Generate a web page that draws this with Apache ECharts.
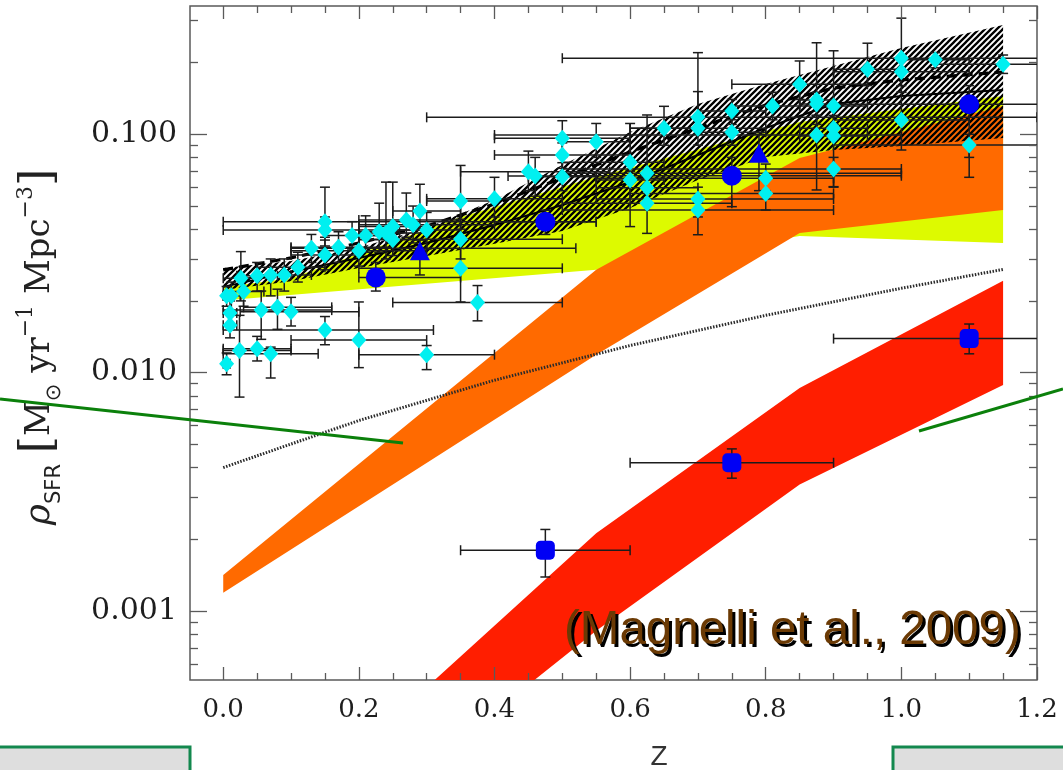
<!DOCTYPE html>
<html>
<head>
<meta charset="utf-8">
<script src="https://cdn.jsdelivr.net/npm/echarts@6.0.0/dist/echarts.min.js"></script>
<style>
html, body { margin:0; padding:0; background:#ffffff; }
#chart { width:1063px; height:770px; }
</style>
</head>
<body>
<div id="chart"></div>
<script>
// ---------- axis ticks & labels ----------
const xMajorTicks = [0, 0.2, 0.4, 0.6, 0.8, 1.0, 1.2];
const xTickLabels = ['0.0', '0.2', '0.4', '0.6', '0.8', '1.0', '1.2'];
const xMinorTicks = [0.05, 0.1, 0.15, 0.25, 0.3, 0.35, 0.45, 0.5, 0.55, 0.65, 0.7, 0.75, 0.85, 0.9, 0.95, 1.05, 1.1, 1.15];
const yMajorTicks = [0.001, 0.01, 0.1];
const yTickLabels = ['0.001', '0.010', '0.100'];
const yMinorTicks = [0.0006, 0.0007, 0.0008, 0.0009, 0.002, 0.003, 0.004, 0.005, 0.006, 0.007, 0.008, 0.009,
                     0.02, 0.03, 0.04, 0.05, 0.06, 0.07, 0.08, 0.09, 0.2, 0.3];

// ---------- model bands ----------
const bandZ = [0, 0.55, 0.85, 1.15];
const orangeUpper = [0.001417, 0.0270, 0.0795, 0.1314];
const orangeLower = [0.001195, 0.0119, 0.0385, 0.0481];
const redUpper = [0.0000804, 0.00212, 0.00863, 0.0243];
const redLower = [0.0000465, 0.000828, 0.00340, 0.00888];
const yellowUpperZ = [0, 0.1, 0.35, 0.55, 0.85, 1.15];
const yellowUpper = [0.0229, 0.0249, 0.0450, 0.0663, 0.1126, 0.1447];
const yellowLower = [0.0201, 0.0270, 0.0374, 0.0350];

const curveZ = [0, 0.1, 0.2, 0.3, 0.4, 0.5, 0.6, 0.7, 0.8, 0.9, 1.0, 1.15];
const hatchUpper = [0.0275, 0.0294, 0.0334, 0.0405, 0.0530, 0.0743, 0.1022, 0.1340, 0.1626, 0.1934, 0.2301, 0.2874];
const hatchLower = [0.0222, 0.0242, 0.0275, 0.0309, 0.0347, 0.0393, 0.0491, 0.0643, 0.0803, 0.0859, 0.0893, 0.0965];
const dashedTotal = [0.0270, 0.0303, 0.0350, 0.0412, 0.0510, 0.0656, 0.0843, 0.1063, 0.1327, 0.1563, 0.1690, 0.1825];
const solidTotal = [0.0229, 0.0265, 0.0303, 0.0350, 0.0416, 0.0505, 0.0631, 0.0819, 0.1063, 0.1340, 0.1447, 0.1534];
const dottedZ = [0, 0.2, 0.4, 0.6, 0.8, 1.0, 1.15];
const dottedVals = [0.0040, 0.0063, 0.0093, 0.0130, 0.0174, 0.0226, 0.0271];

// ---------- data points: cyan diamonds ----------
const diaZ   = [0.50,0.50,0.50,0.55,0.45,0.46,0.40,0.35,0.35,0.35,0.375,0.29,0.27,0.28,0.30,0.25,0.24,0.23,0.25,0.21,0.19,0.20,0.17,0.15,0.15,0.13,0.15,0.11,0.09,0.07,0.05,0.026,0.03,0.005,0.012,0.01,0.056,0.08,0.10,0.01,0.15,0.20,0.024,0.05,0.07,0.005,0.30,
                1.00,1.05,1.00,1.15,0.95,0.85,0.875,0.875,0.90,0.81,0.75,0.70,0.70,0.65,0.75,1.00,0.875,0.90,0.90,1.10,0.60,0.60,0.625,0.625,0.625,0.70,0.70,0.80,0.80,0.90];
const diaV   = [0.0962,0.0819,0.0664,0.0931,0.0697,0.0668,0.0536,0.0525,0.0363,0.0274,0.0197,0.0477,0.0437,0.0417,0.0397,0.0410,0.0385,0.0390,0.0361,0.0376,0.0376,0.0325,0.0336,0.0430,0.0397,0.0333,0.0312,0.0277,0.0257,0.0257,0.0255,0.0249,0.0219,0.0210,0.0210,0.0178,0.0183,0.0188,0.0180,0.0158,0.0151,0.0137,0.0124,0.0126,0.0120,0.0109,0.0119,
                0.2085,0.2052,0.183,0.1966,0.1874,0.162,0.1393,0.134,0.1315,0.1315,0.1253,0.1178,0.106,0.106,0.102,0.1148,0.0993,0.106,0.0984,0.0902,0.0763,0.0643,0.0686,0.0597,0.0514,0.0535,0.0481,0.0654,0.0565,0.0715];
const diaZlo = [0.40,0.40,0.45,0.50,0.35,0.42,0.30,0.30,0.20,0.20,0.25,0.25,0.20,0.20,0.25,0.20,0.20,0.20,0.20,0.20,0.15,0.10,0.10,0.00,0.00,0.10,0.10,0.05,0.05,0.05,0.02,0.00,0.00,0.00,0.00,0.00,0.00,0.03,0.025,0.00,0.00,0.10,0.00,0.00,0.00,0.00,0.20,
                0.50,1.00,0.90,1.05,0.90,0.75,0.85,0.85,0.85,0.75,0.70,0.30,0.60,0.60,0.70,0.90,0.40,0.85,0.85,0.90,0.50,0.55,0.50,0.55,0.50,0.55,0.50,0.55,0.60,0.50];
const diaZhi = [0.60,0.60,0.55,0.60,0.57,0.50,0.50,0.40,0.50,0.50,0.50,0.35,0.35,0.40,0.35,0.30,0.30,0.26,0.30,0.25,0.25,0.30,0.25,0.55,0.30,0.52,0.20,0.15,0.13,0.10,0.08,0.05,0.06,0.01,0.025,0.02,0.16,0.16,0.20,0.02,0.31,0.30,0.10,0.10,0.14,0.01,0.40,
                1.50,1.10,1.10,1.30,1.00,0.95,0.90,0.90,0.95,0.85,0.80,1.20,0.80,0.70,0.80,1.10,1.00,0.95,0.95,1.30,0.65,0.65,1.00,0.70,0.75,0.90,0.90,0.90,0.90,1.00];
const diaVlo = [0.080,0.072,0.058,0.080,0.058,0.055,0.045,0.040,0.030,0.0198,0.0165,0.040,0.037,0.035,0.033,0.035,0.030,0.032,0.031,0.032,0.033,0.028,0.029,0.037,0.034,0.029,0.027,0.024,0.022,0.021,0.022,0.020,0.019,0.019,0.018,0.016,0.0138,0.0152,0.0157,0.014,0.0131,0.0105,0.0079,0.0112,0.0095,0.0098,0.0103,
                0.150,0.190,0.160,0.180,0.160,0.140,0.110,0.120,0.110,0.115,0.110,0.100,0.090,0.090,0.090,0.0859,0.0584,0.095,0.0603,0.080,0.063,0.041,0.060,0.052,0.0384,0.045,0.0379,0.058,0.0481,0.060];
const diaVhi = [0.114,0.092,0.076,0.111,0.085,0.080,0.066,0.074,0.044,0.036,0.0232,0.0617,0.0567,0.050,0.047,0.063,0.063,0.0514,0.042,0.0455,0.043,0.037,0.039,0.060,0.045,0.038,0.036,0.032,0.030,0.030,0.029,0.0322,0.025,0.023,0.024,0.020,0.022,0.0224,0.0207,0.0178,0.0172,0.0198,0.0174,0.0142,0.0128,0.0121,0.0130,
                0.307,0.220,0.210,0.215,0.241,0.203,0.242,0.150,0.224,0.150,0.140,0.220,0.151,0.131,0.115,0.150,0.120,0.120,0.110,0.100,0.111,0.070,0.1205,0.068,0.060,0.060,0.052,0.075,0.065,0.080];

// ---------- blue circles ----------
const circZ   = [0.225, 0.475, 0.75, 1.10];
const circV   = [0.0251, 0.0430, 0.0670, 0.1336];
const circZlo = [0.20, 0.40, 0.50, 0.90];
const circZhi = [0.35, 0.55, 1.00, 1.30];
const circVlo = [0.022, 0.038, 0.0497, 0.066];
const circVhi = [0.029, 0.048, 0.080, 0.160];
// ---------- blue triangles ----------
const triZ   = [0.29, 0.79];
const triV   = [0.0325, 0.0832];
const triVlo = [0.0257, 0.058];
const triVhi = [0.036, 0.100];
// ---------- blue squares ----------
const sqZ   = [0.475, 0.75, 1.10];
const sqV   = [0.00180, 0.00419, 0.0139];
const sqZlo = [0.35, 0.60, 0.90];
const sqZhi = [0.60, 0.90, 1.30];
const sqVlo = [0.00139, 0.00361, 0.0120];
const sqVhi = [0.00220, 0.00479, 0.0160];

// ================= build =================
const chart = echarts.init(document.getElementById('chart'), null, { renderer: 'canvas' });
const FRAME = '#5a5a5a';
const LABEL_FONT = 'DejaVu Serif';

function xLabel(v) {
  const i = xMajorTicks.findIndex(t => Math.abs(t - v) < 1e-6);
  return i >= 0 ? xTickLabels[i] : '';
}
function yLabel(v) {
  const i = yMajorTicks.findIndex(t => Math.abs(t - v) / t < 1e-4);
  return i >= 0 ? yTickLabels[i] : '';
}
function xAxisDef(pos, ticks, len, withLabels) {
  return {
    type: 'value', min: -0.049, max: 1.2, position: pos, z: 10,
    axisLine: { show: false, onZero: false },
    splitLine: { show: false },
    axisTick: { show: true, inside: true, length: len, customValues: ticks, lineStyle: { color: FRAME, width: 1.3 } },
    axisLabel: withLabels ? {
      show: true, customValues: xMajorTicks, margin: 17, formatter: xLabel,
      fontFamily: LABEL_FONT, fontSize: 26, color: '#1e1e1e'
    } : { show: false }
  };
}
function yAxisDef(pos, ticks, len, withLabels) {
  return {
    type: 'log', logBase: 10, min: 0.000514, max: 0.3452, position: pos, z: 10,
    axisLine: { show: false, onZero: false },
    splitLine: { show: false },
    minorTick: { show: false },
    axisTick: { show: true, inside: true, length: len, customValues: ticks, lineStyle: { color: FRAME, width: 1.3 } },
    axisLabel: withLabels ? {
      show: true, customValues: yMajorTicks, margin: 13, formatter: yLabel,
      fontFamily: LABEL_FONT, fontSize: 30, color: '#1e1e1e'
    } : { show: false }
  };
}

function hatchCanvas() {
  const c = document.createElement('canvas');
  c.width = 6; c.height = 6;
  const g = c.getContext('2d');
  g.strokeStyle = '#000';
  g.lineWidth = 2.3;
  g.beginPath();
  g.moveTo(-1, 7); g.lineTo(7, -1);
  g.moveTo(-1, 1); g.lineTo(1, -1);
  g.moveTo(5, 7); g.lineTo(7, 5);
  g.stroke();
  return c;
}

function bandSeries(name, upZ, upV, loZ, loV, fill, zz) {
  return {
    type: 'custom', name: name, coordinateSystem: 'cartesian2d', xAxisIndex: 0, yAxisIndex: 0,
    clip: true, silent: true, z: zz, animation: false,
    data: [[0.5, 0.01]],
    renderItem: function (params, api) {
      const pts = [];
      for (let i = 0; i < upZ.length; i++) pts.push(api.coord([upZ[i], upV[i]]));
      for (let i = loZ.length - 1; i >= 0; i--) pts.push(api.coord([loZ[i], loV[i]]));
      return { type: 'polygon', shape: { points: pts }, style: { fill: fill, stroke: null } };
    }
  };
}

function lineSeries(name, zs, vs, style, zz) {
  return {
    type: 'line', name: name, xAxisIndex: 0, yAxisIndex: 0, z: zz, silent: true, animation: false,
    showSymbol: false, symbol: 'none', smooth: false, clip: true,
    data: zs.map((z, i) => [z, vs[i]]),
    lineStyle: style
  };
}

// error bar records from the named arrays
const errRecords = [];
diaZ.forEach((z, i) => errRecords.push([z, diaV[i], diaZlo[i], diaZhi[i], diaVlo[i], diaVhi[i]]));
circZ.forEach((z, i) => errRecords.push([z, circV[i], circZlo[i], circZhi[i], circVlo[i], circVhi[i]]));
triZ.forEach((z, i) => errRecords.push([z, triV[i], z, z, triVlo[i], triVhi[i]]));
sqZ.forEach((z, i) => errRecords.push([z, sqV[i], sqZlo[i], sqZhi[i], sqVlo[i], sqVhi[i]]));

const errorSeries = {
  type: 'custom', name: 'errors', coordinateSystem: 'cartesian2d', xAxisIndex: 0, yAxisIndex: 0,
  clip: true, silent: true, z: 5, animation: false,
  data: errRecords.map(r => [r[0], r[1]]),
  renderItem: function (params, api) {
    const r = errRecords[params.dataIndex];
    const cap = 5;
    const st = { stroke: '#1c1c1c', lineWidth: 1.5 };
    const ch = [];
    if (r[3] > r[2]) {
      const L = api.coord([r[2], r[1]]), R = api.coord([r[3], r[1]]);
      ch.push({ type: 'line', shape: { x1: L[0], y1: L[1], x2: R[0], y2: R[1] }, style: st });
      ch.push({ type: 'line', shape: { x1: L[0], y1: L[1] - cap, x2: L[0], y2: L[1] + cap }, style: st });
      ch.push({ type: 'line', shape: { x1: R[0], y1: R[1] - cap, x2: R[0], y2: R[1] + cap }, style: st });
    }
    if (r[5] > r[4]) {
      const B = api.coord([r[0], r[4]]), T = api.coord([r[0], r[5]]);
      ch.push({ type: 'line', shape: { x1: B[0], y1: B[1], x2: T[0], y2: T[1] }, style: st });
      ch.push({ type: 'line', shape: { x1: B[0] - cap, y1: B[1], x2: B[0] + cap, y2: B[1] }, style: st });
      ch.push({ type: 'line', shape: { x1: T[0] - cap, y1: T[1], x2: T[0] + cap, y2: T[1] }, style: st });
    }
    return { type: 'group', children: ch };
  }
};

function scatterSeries(name, zs, vs, symbol, size, color) {
  return {
    type: 'scatter', name: name, xAxisIndex: 0, yAxisIndex: 0, z: 6, silent: true, animation: false,
    symbol: symbol, symbolSize: size, clip: true,
    itemStyle: { color: color, opacity: 1 },
    data: zs.map((z, i) => [z, vs[i]])
  };
}

const hatchFill = { image: hatchCanvas(), repeat: 'repeat' };
const citation = '(Magnelli et al., 2009)';

const option = {
  animation: false,
  backgroundColor: '#ffffff',
  grid: { left: 190, right: 26, top: 6, bottom: 90, show: true, borderColor: FRAME, borderWidth: 1.5,
          backgroundColor: 'transparent', containLabel: false, outerBoundsMode: 'none' },
  xAxis: [
    xAxisDef('bottom', xMajorTicks, 13, true),
    xAxisDef('bottom', xMinorTicks, 7, false),
    xAxisDef('top', xMajorTicks, 13, false),
    xAxisDef('top', xMinorTicks, 7, false)
  ],
  yAxis: [
    yAxisDef('left', yMajorTicks, 17, true),
    yAxisDef('left', yMinorTicks, 8, false),
    yAxisDef('right', yMajorTicks, 17, false),
    yAxisDef('right', yMinorTicks, 8, false)
  ],
  series: [
    bandSeries('normal', yellowUpperZ, yellowUpper, bandZ, yellowLower, '#ddfa00', 1),
    bandSeries('LIRG', bandZ, orangeUpper, bandZ, orangeLower, '#ff6a00', 2),
    bandSeries('ULIRG', bandZ, redUpper, bandZ, redLower, '#ff1e00', 2),
    bandSeries('total', curveZ, hatchUpper, curveZ, hatchLower, hatchFill, 3),
    lineSeries('dotted', dottedZ, dottedVals, { color: '#2a2a2a', width: 3, type: [1.5, 1.5] }, 4),
    lineSeries('dashed', curveZ, dashedTotal, { color: '#000', width: 3.2, type: [10, 6] }, 4),
    lineSeries('solid', curveZ, solidTotal, { color: '#000', width: 2 }, 4),
    errorSeries,
    scatterSeries('diamonds', diaZ, diaV, 'diamond', [15, 17], '#00f0f0'),
    scatterSeries('circles', circZ, circV, 'circle', 20, '#0000f5'),
    scatterSeries('triangles', triZ, triV, 'triangle', [20, 19], '#0000f5'),
    scatterSeries('squares', sqZ, sqV, 'roundRect', 19, '#0000f5')
  ],
  graphic: [
    {
      type: 'text', x: 40, y: 347, rotation: Math.PI / 2, z: 100,
      style: {
        text: '{g|ρ}{s|SFR}{n| }{b|[}{n|M}{s|⊙}{n| yr}{p|−1}{n| Mpc}{p|−3}{b|]}',
        align: 'center', verticalAlign: 'middle', textAlign: 'center', textVerticalAlign: 'middle',
        rich: {
          g: { fontFamily: 'DejaVu Serif', fontStyle: 'italic', fontSize: 36, lineHeight: 50, fill: '#222', color: '#222' },
          n: { fontFamily: 'DejaVu Serif', fontSize: 34, lineHeight: 50, fill: '#222', color: '#222' },
          b: { fontFamily: 'DejaVu Serif', fontSize: 44, lineHeight: 50, fill: '#222', color: '#222' },
          s: { fontFamily: 'DejaVu Sans', fontSize: 21, lineHeight: 23, verticalAlign: 'bottom', fill: '#222', color: '#222' },
          p: { fontFamily: 'DejaVu Serif', fontSize: 22, lineHeight: 23, verticalAlign: 'top', fill: '#222', color: '#222' }
        }
      }
    },
    {
      type: 'text', x: 659, y: 757, z: 100,
      style: { text: 'Z', fontFamily: 'Liberation Sans', fontSize: 28, fill: '#333',
               align: 'center', verticalAlign: 'middle', textAlign: 'center', textVerticalAlign: 'middle' }
    },
    {
      type: 'text', x: 567, y: 634, z: 100,
      style: { text: citation, fontFamily: 'Liberation Sans', fontSize: 47.5, fill: '#000000',
               align: 'left', verticalAlign: 'middle', textAlign: 'left', textVerticalAlign: 'middle' }
    },
    {
      type: 'text', x: 564, y: 631, z: 101,
      style: { text: citation, fontFamily: 'Liberation Sans', fontSize: 47.5, fill: '#6b3a04',
               align: 'left', verticalAlign: 'middle', textAlign: 'left', textVerticalAlign: 'middle' }
    },
    { type: 'line', z: 100, shape: { x1: 0, y1: 399, x2: 403, y2: 443 }, style: { stroke: '#0b800b', lineWidth: 3 } },
    { type: 'line', z: 100, shape: { x1: 919, y1: 431, x2: 1063, y2: 389 }, style: { stroke: '#0b800b', lineWidth: 3 } },
    { type: 'rect', z: 100, shape: { x: -3, y: 747, width: 193, height: 30 }, style: { fill: '#dedede', stroke: '#13884e', lineWidth: 3 } },
    { type: 'rect', z: 100, shape: { x: 893, y: 747, width: 180, height: 30 }, style: { fill: '#dedede', stroke: '#13884e', lineWidth: 3 } }
  ]
};

chart.setOption(option);
</script>
</body>
</html>
